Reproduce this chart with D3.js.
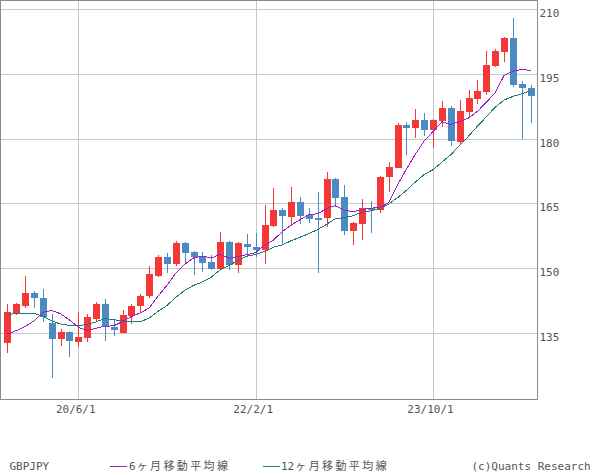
<!DOCTYPE html>
<html><head><meta charset="utf-8">
<script src="https://cdn.jsdelivr.net/npm/d3@7"></script>
<style>
html,body{margin:0;padding:0;background:#fff;}
svg{display:block;}
</style></head>
<body>
<svg id="chart" width="600" height="475"></svg>
<script>
const months = ["2019-10","2019-11","2019-12","2020-01","2020-02","2020-03","2020-04","2020-05","2020-06","2020-07","2020-08","2020-09","2020-10","2020-11","2020-12",
"2021-01","2021-02","2021-03","2021-04","2021-05","2021-06","2021-07","2021-08","2021-09","2021-10","2021-11","2021-12",
"2022-01","2022-02","2022-03","2022-04","2022-05","2022-06","2022-07","2022-08","2022-09","2022-10","2022-11","2022-12",
"2023-01","2023-02","2023-03","2023-04","2023-05","2023-06","2023-07","2023-08","2023-09","2023-10","2023-11","2023-12",
"2024-01","2024-02","2024-03","2024-04","2024-05","2024-06","2024-07","2024-08","2024-09"];
const open  = [132.7,139.65,141.27,144.21,143.05,137.25,133.6,135.16,132.92,133.85,138.1,141.66,136.4,135.0,138.87,141.1,143.52,148.15,152.64,150.94,155.88,153.72,152.64,151.4,149.85,156.04,150.63,155.57,154.96,154.18,159.82,163.45,161.91,165.31,162.22,161.52,161.68,170.64,166.55,158.66,160.29,163.92,163.5,171.03,173.19,183.16,182.47,184.32,182.0,184.17,187.11,179.22,186.18,189.27,190.9,196.93,200.18,203.34,192.6,191.67];
const high  = [141.7,141.97,148.15,144.67,145.13,139.26,135.78,135.3,139.8,139.34,142.12,142.82,137.87,140.26,141.58,144.0,150.47,152.95,153.56,156.35,156.04,153.9,153.64,153.1,158.36,156.35,156.04,157.9,158.2,164.61,168.56,163.84,168.71,166.47,163.84,167.63,172.27,170.88,169.25,160.6,166.01,165.54,171.42,174.51,183.7,183.94,186.87,185.87,184.5,188.73,187.57,188.96,191.28,193.6,200.41,200.79,203.58,208.06,193.37,192.4];
const low   = [130.4,139.1,140.81,140.81,137.4,124.42,132.0,129.44,131.76,132.92,137.64,133.15,134.31,134.85,136.94,139.5,142.97,147.84,148.93,150.55,151.25,148.46,149.08,149.55,149.55,149.55,148.93,152.64,152.64,150.93,159.59,155.34,159.82,160.29,160.36,148.92,159.59,164.23,157.58,155.26,156.5,158.2,162.68,167.7,173.1,176.21,180.15,180.61,177.75,182.78,178.37,178.53,185.1,187.96,190.12,196.54,197.86,192.06,179.92,183.55];
const close = [139.8,141.66,144.21,143.12,138.56,133.6,135.16,133.15,134.0,138.64,141.66,136.4,135.7,139.1,141.19,143.5,148.62,152.64,150.94,155.88,153.56,152.48,151.25,149.85,156.04,150.63,155.88,154.8,154.18,159.98,163.45,162.14,165.31,162.14,161.37,161.14,170.64,166.31,158.66,160.44,163.92,163.45,171.1,173.5,183.16,182.55,184.32,182.0,184.32,187.11,179.45,186.41,189.43,191.13,197.08,200.33,203.34,192.44,191.83,189.97];
const ma6  = [134.7,135.47,136.4,137.71,139.72,140.16,139.39,137.97,136.27,135.52,136.04,136.5,136.59,137.58,138.78,139.59,140.75,143.46,146.0,148.8,150.86,152.35,152.79,152.33,153.18,152.3,152.69,153.08,153.56,155.25,156.49,158.41,159.98,161.2,162.4,162.59,163.79,164.49,163.38,163.09,163.52,163.9,163.98,165.18,169.26,172.95,176.35,179.44,181.64,183.91,183.29,183.94,184.79,186.31,188.44,190.64,194.62,195.63,196.03,195.83];
const ma12 = [139.26,139.41,139.49,139.49,138.87,137.71,137.02,136.71,136.63,136.94,137.48,138.33,137.99,137.78,137.52,137.56,138.39,139.98,141.3,143.19,144.82,145.97,146.77,147.89,149.59,150.55,151.77,152.71,153.18,153.79,154.83,155.35,156.33,157.14,157.98,158.92,160.14,161.45,161.68,162.15,162.96,163.25,163.89,164.83,166.32,168.02,169.93,171.67,172.81,174.54,176.28,178.44,180.57,182.87,185.04,187.27,188.96,189.78,190.41,191.07];
const yTicks = [135,150,165,180,195,210];
const xTickMonths = ["2020-06","2022-02","2023-10"];
const xTickLabels = ["20/6/1","22/2/1","23/10/1"];
const legendLabels = ["GBPJPY","6","ヶ月移動平均線","12","ヶ月移動平均線","(c)Quants Research"];

const svg = d3.select("#chart");
const W = 537, H = 399.5;
const x = d3.scalePoint().domain(months).range([7.3, 530.6]);
const y = d3.scaleLinear().domain([135,210]).range([332.7, 9.3]);
const UP = "#f63737", DOWN = "#4b8bc2", C6 = "#a01ec4", C12 = "#1f7a74";
const mono = "'DejaVu Sans Mono', monospace";
const cjk = "'Noto Sans CJK JP', sans-serif";

// grid
const g = svg.append("g").attr("shape-rendering","crispEdges");
g.selectAll(".hg").data(yTicks).join("line")
  .attr("x1",0).attr("x2",W).attr("y1",d=>Math.round(y(d))+0.5).attr("y2",d=>Math.round(y(d))+0.5)
  .attr("stroke","#c8c8c8");
g.selectAll(".vg").data(xTickMonths).join("line")
  .attr("x1",d=>Math.round(x(d))+0.5).attr("x2",d=>Math.round(x(d))+0.5).attr("y1",0).attr("y2",H)
  .attr("stroke","#c8c8c8");

// candles
const data = months.map((m,i)=>({m,o:open[i],h:high[i],l:low[i],c:close[i]}));
const cg = svg.append("g").attr("shape-rendering","crispEdges");
const cand = cg.selectAll("g").data(data).join("g");
cand.append("line")
  .attr("x1",d=>Math.round(x(d.m))+0.5).attr("x2",d=>Math.round(x(d.m))+0.5)
  .attr("y1",d=>y(d.h)).attr("y2",d=>y(d.l))
  .attr("stroke",d=>d.c>=d.o?UP:DOWN);
cand.append("rect")
  .attr("x",d=>Math.round(x(d.m))-3).attr("width",7)
  .attr("y",d=>y(Math.max(d.o,d.c))).attr("height",d=>Math.max(1,Math.abs(y(d.o)-y(d.c))))
  .attr("fill",d=>d.c>=d.o?UP:DOWN);

// moving averages
const line = d3.line().x((d,i)=>x(months[i])).y(d=>y(d));
svg.append("path").attr("d",line(ma12)).attr("fill","none").attr("stroke",C12).attr("stroke-width",1).attr("shape-rendering","crispEdges");
svg.append("path").attr("d",line(ma6)).attr("fill","none").attr("stroke",C6).attr("stroke-width",1).attr("shape-rendering","crispEdges");

// frame
svg.append("rect").attr("x",0.5).attr("y",0.5).attr("width",W).attr("height",H-0.5)
  .attr("fill","none").attr("stroke","#8a8a8a").attr("shape-rendering","crispEdges");

// axes
const ya = svg.append("g").attr("transform",`translate(${W+0.5},0)`)
  .call(d3.axisRight(y).tickValues(yTicks).tickSize(0).tickFormat(d3.format("d")));
ya.select(".domain").remove();
ya.selectAll("text").attr("x",2).attr("dy",null).attr("y",7.5)
  .attr("font-family",mono).attr("font-size",11).attr("fill","#555");

const xa = svg.append("g").attr("transform",`translate(0,${H})`)
  .call(d3.axisBottom(x).tickValues(xTickMonths).tickSize(0).tickFormat((d,i)=>xTickLabels[i]));
xa.select(".domain").remove();
xa.selectAll("text").attr("dy",null).attr("y",13).attr("dx",-3)
  .attr("font-family",mono).attr("font-size",11).attr("fill","#555");

// legend
const lg = svg.append("g").attr("fill","#555").attr("font-size",11);
lg.append("text").attr("x",9.5).attr("y",470).attr("font-family",mono).text(legendLabels[0]);
lg.append("line").attr("x1",110).attr("x2",127).attr("y1",466.5).attr("y2",466.5).attr("stroke",C6).attr("shape-rendering","crispEdges");
const t1 = lg.append("text").attr("x",129).attr("y",470);
t1.append("tspan").attr("font-family",mono).text(legendLabels[1]);
t1.append("tspan").attr("font-family",cjk).attr("dx",1).attr("letter-spacing","2.4px").text(legendLabels[2]);
lg.append("line").attr("x1",263).attr("x2",280).attr("y1",466.5).attr("y2",466.5).attr("stroke",C12).attr("shape-rendering","crispEdges");
const t2 = lg.append("text").attr("x",281).attr("y",470);
t2.append("tspan").attr("font-family",mono).text(legendLabels[3]);
t2.append("tspan").attr("font-family",cjk).attr("dx",1).attr("letter-spacing","2.4px").text(legendLabels[4]);
lg.append("text").attr("x",471.5).attr("y",470).attr("font-family",mono).text(legendLabels[5]);
</script>
</body></html>
